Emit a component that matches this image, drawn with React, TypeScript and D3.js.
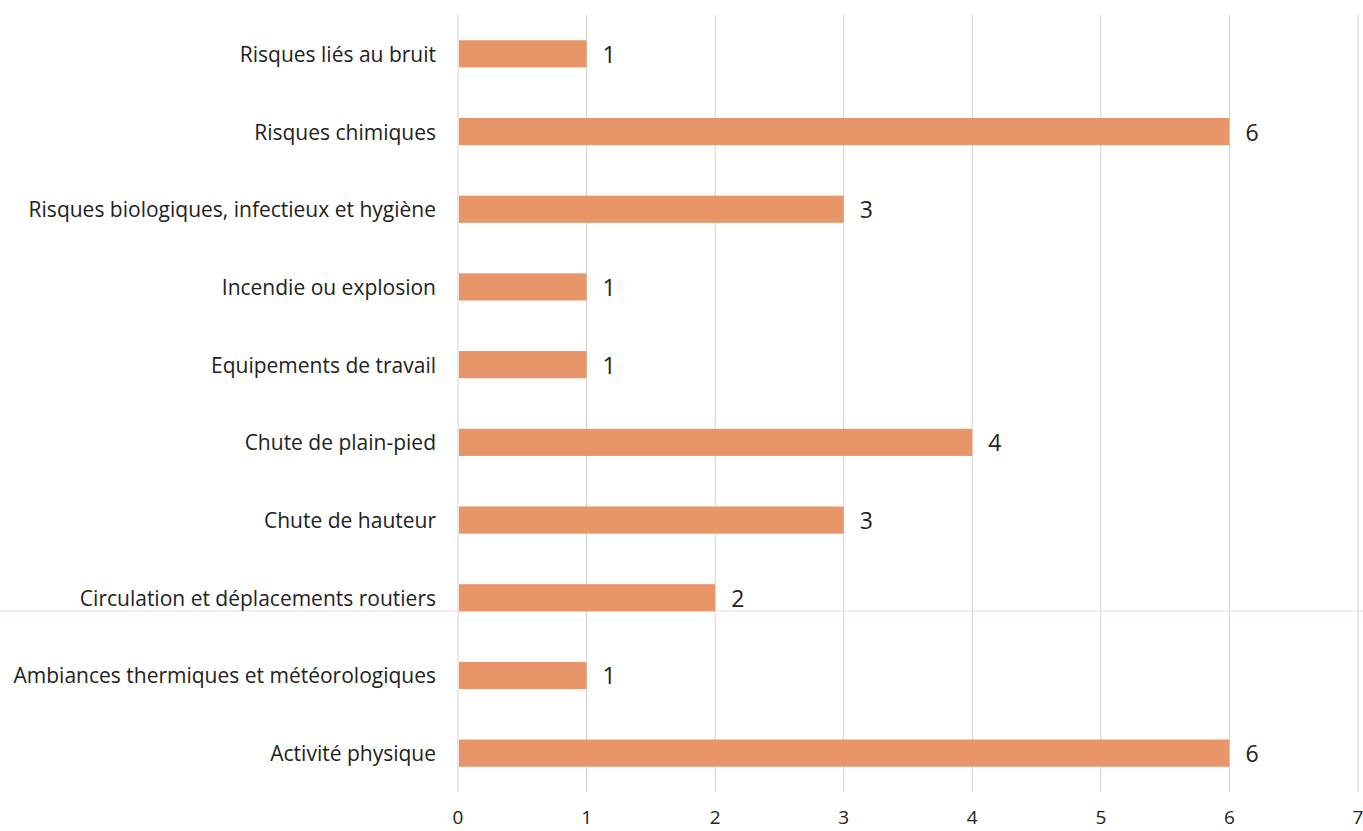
import React from "react";
import * as d3 from "d3";

const categories = [
  "Risques liés au bruit",
  "Risques chimiques",
  "Risques biologiques, infectieux et hygiène",
  "Incendie ou explosion",
  "Equipements de travail",
  "Chute de plain-pied",
  "Chute de hauteur",
  "Circulation et déplacements routiers",
  "Ambiances thermiques et météorologiques",
  "Activité physique",
];
const values = [1, 6, 3, 1, 1, 4, 3, 2, 1, 6];
const xTicks = [0, 1, 2, 3, 4, 5, 6, 7];

const W = 1363;
const H = 831;
const FONT = "'Open Sans', 'Liberation Sans', sans-serif";

export default function App() {
  const x = d3.scaleLinear().domain([0, 7]).range([458, 1358]);
  const y = d3
    .scaleBand<string>()
    .domain(categories)
    .range([15, 792])
    .paddingInner(0.65)
    .paddingOuter(0.325);

  return (
    <svg
      width={W}
      height={H}
      style={{ position: "absolute", left: 0, top: 0, background: "#fff" }}
    >
      {xTicks.map((t) => (
        <line
          key={"g" + t}
          x1={x(t)}
          x2={x(t)}
          y1={15}
          y2={792}
          stroke="#d2d2d2"
          strokeWidth={1}
        />
      ))}
      <line x1={0} x2={W} y1={611} y2={611} stroke="#f3d3ee" strokeWidth={1} />
      {categories.map((c, i) => {
        const by = y(c)!;
        const bh = y.bandwidth();
        return (
          <g key={c}>
            <rect
              x={x(0) + 1}
              y={by}
              width={x(values[i]) - x(0) - 1}
              height={bh}
              fill="#E8956A"
            />
            <text
              x={436}
              y={by + bh / 2}
              textAnchor="end"
              dominantBaseline="central"
              fontFamily={FONT}
              fontSize={21}
              fill="#222"
            >
              {c}
            </text>
            <text
              x={x(values[i]) + 16}
              y={by + bh / 2}
              dominantBaseline="central"
              fontFamily={FONT}
              fontSize={23}
              fill="#222"
            >
              {values[i]}
            </text>
          </g>
        );
      })}
      {xTicks.map((t) => (
        <text
          key={"t" + t}
          x={x(t)}
          y={824}
          textAnchor="middle"
          fontFamily={FONT}
          fontSize={19}
          fill="#222"
        >
          {t}
        </text>
      ))}
    </svg>
  );
}
